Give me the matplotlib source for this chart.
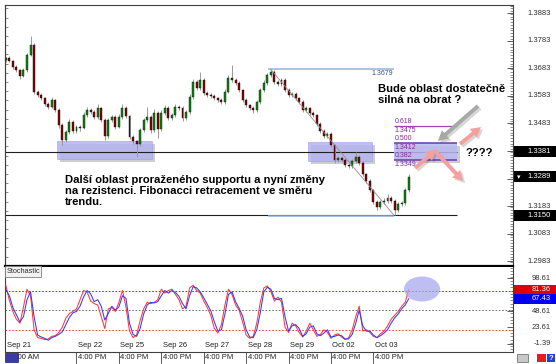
import matplotlib
matplotlib.use("Agg")
import matplotlib.pyplot as plt
import numpy as np
from matplotlib.patches import Rectangle, Ellipse, FancyArrowPatch
from matplotlib.transforms import Affine2D
import matplotlib.patheffects as pe
from matplotlib.ticker import FixedLocator, MultipleLocator, NullFormatter

plt.rcParams['font.family'] = ['Liberation Sans', 'DejaVu Sans']

# ---------------- data ----------------
trading_days = ["Sep 21", "Sep 22", "Sep 25", "Sep 26", "Sep 27",
                "Sep 28", "Sep 29", "Oct 02", "Oct 03"]
bar_hours = 2
first_open = 1.3712
closes = [
    1.3720, 1.3709, 1.3687, 1.3676, 1.3655, 1.3676, 1.3731, 1.3767, 1.3597, 1.3586,
    1.3575, 1.3553, 1.3542, 1.3568, 1.3532, 1.3477, 1.3423, 1.3452, 1.3488, 1.3456,
    1.3470, 1.3466, 1.3513, 1.3532, 1.3524, 1.3506, 1.3539, 1.3495, 1.3437, 1.3495,
    1.3506, 1.3470, 1.3506, 1.3539, 1.3510, 1.3434, 1.3419, 1.3408, 1.3459, 1.3495,
    1.3506, 1.3459, 1.3521, 1.3463, 1.3521, 1.3539, 1.3503, 1.3513, 1.3542, 1.3539,
    1.3503, 1.3524, 1.3579, 1.3633, 1.3611, 1.3640, 1.3593, 1.3586, 1.3582, 1.3575,
    1.3568, 1.3560, 1.3597, 1.3647, 1.3640, 1.3629, 1.3604, 1.3568, 1.3550, 1.3539,
    1.3532, 1.3560, 1.3604, 1.3629, 1.3658, 1.3669, 1.3633, 1.3626, 1.3640, 1.3604,
    1.3586, 1.3590, 1.3575, 1.3560, 1.3532, 1.3539, 1.3521, 1.3513, 1.3481, 1.3456,
    1.3437, 1.3445, 1.3405, 1.3350, 1.3358, 1.3350, 1.3332, 1.3329, 1.3347, 1.3361,
    1.3340, 1.3300, 1.3274, 1.3242, 1.3198, 1.3180, 1.3198, 1.3202, 1.3213, 1.3202,
    1.3169, 1.3191, 1.3195, 1.3242, 1.3289]
wick_up_pips = [
    5, 6, 4, 6, 5, 8, 6, 33, 8, 6,
    7, 5, 6, 9, 5, 6, 7, 6, 12, 8,
    7, 6, 10, 12, 8, 6, 14, 5, 6, 9,
    7, 6, 12, 14, 6, 5, 7, 5, 6, 9,
    36, 6, 14, 6, 10, 12, 6, 8, 12, 7,
    6, 8, 9, 12, 7, 29, 8, 6, 7, 6,
    5, 6, 10, 12, 48, 8, 6, 5, 6, 5,
    6, 7, 8, 10, 7, 10, 8, 9, 7, 6,
    8, 7, 6, 5, 6, 8, 5, 6, 5, 6,
    7, 8, 6, 5, 8, 7, 6, 7, 8, 18,
    9, 6, 5, 6, 5, 8, 9, 10, 14, 6,
    7, 9, 6, 8, 10]
wick_dn_pips = [
    6, 5, 7, 6, 12, 5, 6, 5, 6, 7,
    8, 6, 7, 5, 8, 9, 18, 8, 6, 9,
    7, 10, 5, 6, 8, 7, 6, 8, 14, 7,
    6, 8, 5, 6, 9, 8, 10, 47, 6, 8,
    6, 12, 7, 33, 8, 6, 9, 7, 6, 7,
    10, 6, 7, 6, 8, 6, 7, 6, 8, 7,
    6, 8, 6, 5, 6, 7, 6, 8, 7, 9,
    10, 6, 5, 6, 7, 6, 8, 7, 6, 7,
    8, 6, 7, 8, 7, 6, 7, 8, 9, 7,
    6, 8, 9, 10, 8, 7, 6, 8, 7, 6,
    9, 8, 7, 6, 8, 9, 7, 6, 8, 7,
    19, 6, 8, 7, 6]
stoch_k = [
    88, 65, 48, 36, 30, 55, 82, 72, 20, 8,
    7, 5, 6, 10, 11, 16, 24, 38, 45, 48,
    52, 66, 80, 78, 64, 60, 58, 40, 22, 52,
    54, 48, 62, 80, 55, 18, 8, 12, 34, 52,
    62, 60, 62, 66, 82, 76, 80, 82, 74, 66,
    52, 56, 84, 88, 80, 76, 64, 54, 42, 22,
    15, 28, 58, 82, 74, 58, 50, 32, 12, 7,
    10, 30, 62, 84, 87, 78, 64, 70, 62, 24,
    16, 30, 26, 16, 9, 18, 30, 20, 10, 13,
    20, 16, 7, 12, 14, 9, 5, 8, 20, 40,
    56, 18, 20, 16, 10, 8, 14, 18, 26, 36,
    42, 48, 56, 62, 81.36]
stoch_d = [
    82, 72, 54, 43, 32, 40, 66, 78, 40, 12,
    9, 7, 4, 8, 10, 13, 17, 28, 39, 46,
    48, 56, 70, 80, 75, 63, 66, 56, 35, 45,
    56, 50, 55, 72, 68, 30, 13, 10, 22, 44,
    58, 62, 61, 63, 72, 80, 76, 80, 77, 71,
    60, 52, 72, 86, 84, 78, 69, 59, 49, 32,
    18, 20, 44, 74, 78, 63, 53, 41, 20, 9,
    8, 20, 46, 78, 85, 82, 68, 66, 68, 40,
    18, 26, 28, 22, 10, 14, 24, 26, 14, 11,
    15, 20, 9, 10, 12, 11, 6, 6, 13, 30,
    50, 26, 18, 18, 12, 8, 11, 15, 20, 30,
    38, 44, 52, 58, 67.43]
support_level = 1.3381
swing_high = 1.3679
swing_low = 1.3150
fib_ratios = ["0.618", "0.500", "0.382"]
fib_prices = [1.3475, 1.3412, 1.3349]
price_tick_values = [1.3883, 1.3783, 1.3683, 1.3583, 1.3483, 1.3381,
                     1.3289, 1.3183, 1.3150, 1.3083, 1.2983]
price_boxed = [1.3381, 1.3289, 1.3150]
stoch_tick_values = [98.61, 48.61, 23.61, -1.39]
stoch_levels = [80, 50, 20]
stoch_last = [81.36, 67.43]

# zone extents (hours on the bar axis / prices)
zone1 = (29.0, 82.7, 1.3354, 1.3419)
zone2 = (171.0, 207.2, 1.3347, 1.3416)
fib_from_hour, fib_to_hour, fib_ext_hour = 148.4, 219.7, 255.3

# ---------------- figure ----------------
W, H = 556, 364
fig = plt.figure(figsize=(W / 100, H / 100), dpi=100)
pix = Affine2D().scale(1 / 100, -1 / 100).translate(0, H / 100) + fig.dpi_scale_trans


def fr(x0, y0, x1, y1):
    return [x0 / W, 1 - y1 / H, (x1 - x0) / W, (y1 - y0) / H]


ax = fig.add_axes(fr(5, 5, 513, 266))
ax2 = fig.add_axes(fr(5, 267, 513, 352))

xlim = (-0.45, 287.0)
for a in (ax, ax2):
    a.set_xlim(*xlim)
    a.set_xticks([])
    for s in a.spines.values():
        s.set_color('#404040')
        s.set_linewidth(0.8)
ax.spines['bottom'].set_linewidth(1.6)
ax.spines['bottom'].set_color('black')
ax2.spines['top'].set_visible(False)

ax.set_ylim(1.29663, 1.39120)
ax2.set_ylim(-13.9, 115.9)

# ---- candles ----
n = len(closes)
t = np.arange(n) * bar_hours
c = np.array(closes)
o = np.array([first_open] + closes[:-1])
hi = np.maximum(o, c) + np.array(wick_up_pips) / 10000
lo = np.minimum(o, c) - np.array(wick_dn_pips) / 10000
up = c >= o
ax.vlines(t, lo, hi, color='#999999', lw=0.7, zorder=3)
body_h = np.maximum(np.abs(c - o), 0.00012)
ax.bar(t, body_h, bottom=np.minimum(o, c), width=1.1,
       color=np.where(up, '#0a8a0a', '#8b0000'), edgecolor='#101010',
       linewidth=0.3, zorder=4)

# ---- zones / levels ----
shadow = [pe.SimplePatchShadow(offset=(2, -2), alpha=0.25), pe.Normal()]
for (x0, x1, y0, y1) in (zone1, zone2):
    r = Rectangle((x0, y0), x1 - x0, y1 - y0, facecolor='#b4b4f0',
                  edgecolor='#a0a0e8', lw=0.5, alpha=0.85, zorder=2)
    r.set_path_effects(shadow)
    ax.add_patch(r)

ax.hlines([support_level, swing_low], xlim[0], fib_ext_hour,
          color='#202020', lw=0.8, zorder=2)

# fibonacci tool
ax.hlines([swing_high, swing_low - 0.0003], fib_from_hour, fib_to_hour,
          color='#8fb3dc', lw=1.1, zorder=3)
ax.plot([fib_from_hour + 1.5, fib_to_hour], [swing_high, swing_low],
        color='#909090', lw=0.6, zorder=5)
fr_rect = Rectangle((fib_to_hour, fib_prices[2]), fib_ext_hour - fib_to_hour,
                    fib_prices[1] - fib_prices[2], facecolor='#b8b8f2',
                    edgecolor='none', alpha=0.85, zorder=2)
fr_rect.set_path_effects(shadow)
ax.add_patch(fr_rect)
ax.hlines(fib_prices[0], fib_to_hour, fib_ext_hour, color='#a040b0', lw=0.9, zorder=3)
ax.hlines(fib_prices[1:], fib_to_hour, fib_ext_hour, color='#6a3aa8', lw=1.1, zorder=3)
for ratio, price in zip(fib_ratios, fib_prices):
    ax.text(fib_to_hour + 0.3, price + 0.0004, ratio, fontsize=5,
            color='#8a2a9a', va='bottom', ha='left', zorder=6)
    ax.text(fib_to_hour + 0.3, price - 0.0004, f"{price:.4f}", fontsize=5,
            color='#8a2a9a', va='top', ha='left', zorder=6)
ax.text(fib_to_hour - 0.8, swing_high - 0.0004, f"{swing_high:.4f}", fontsize=5,
        color='#405080', va='top', ha='right', zorder=6)

# ---- price axis ticks / labels ----
ax.yaxis.tick_right()
ax.yaxis.set_major_locator(FixedLocator(np.arange(1.2983, 1.39, 0.01)))
ax.yaxis.set_minor_locator(MultipleLocator(0.001))
ax.yaxis.set_major_formatter(NullFormatter())
ax.tick_params(axis='y', which='major', direction='in', length=4, width=0.6,
               color='#404040', right=True, left=False)
ax.tick_params(axis='y', which='minor', direction='in', length=2, width=0.5,
               color='#606060', right=True, left=False)
sec = ax.secondary_yaxis('left')
sec.yaxis.set_major_locator(MultipleLocator(0.01 / 3))
sec.yaxis.set_major_formatter(NullFormatter())
sec.tick_params(direction='in', length=2, width=0.5, color='#606060')
sec.spines['left'].set_color('#404040')

ytr = ax.get_yaxis_transform()
lab_x = (551 - 5) / 508
box_h = 0.0040
for v in price_tick_values:
    if v in price_boxed:
        ax.add_patch(Rectangle((1.001, v - box_h / 2), 0.085, box_h, transform=ytr,
                               facecolor='black', edgecolor='none', clip_on=False))
        ax.text(lab_x, v, f"{v:.4f}", transform=ytr, fontsize=5.5, color='white',
                ha='right', va='center', clip_on=False)
    else:
        ax.text(lab_x, v, f"{v:.4f}", transform=ytr, fontsize=5.5, color='#303030',
                ha='right', va='center', clip_on=False)
ax.text(1.008, price_boxed[1], "\u25BE", transform=ytr, fontsize=5, color='white',
        ha='left', va='center', family='DejaVu Sans', clip_on=False)

# ---- stochastic ----
ax2.plot(t, stoch_k, color='#ff3838', lw=0.75, zorder=3)
ax2.plot(t, stoch_d, color='#3838ff', lw=0.75, zorder=4)
for lv, col in zip(stoch_levels, ['#2020ff', '#606060', '#ff2020']):
    ax2.axhline(lv, color=col, lw=0.6, ls=(0, (2, 2)), zorder=2)
ax2.yaxis.tick_right()
ax2.yaxis.set_major_locator(FixedLocator(stoch_tick_values))
ax2.yaxis.set_minor_locator(MultipleLocator(5))
ax2.yaxis.set_major_formatter(NullFormatter())
ax2.tick_params(axis='y', which='major', direction='in', length=4, width=0.6,
                color='#404040')
ax2.tick_params(axis='y', which='minor', direction='in', length=2, width=0.5,
                color='#606060')
ytr2 = ax2.get_yaxis_transform()
for v in stoch_tick_values:
    ax2.text(lab_x, v, f"{v:.2f}", transform=ytr2, fontsize=5.5, color='#303030',
             ha='right', va='center', clip_on=False)
sbox = 15.5
for v, col in zip(stoch_last, ['#e00000', '#0000f0']):
    ax2.add_patch(Rectangle((1.001, v - sbox / 2), 0.085, sbox, transform=ytr2,
                            facecolor=col, edgecolor='none', clip_on=False))
    ax2.text(lab_x, v, f"{v:.2f}", transform=ytr2, fontsize=5.5, color='white',
             ha='right', va='center', clip_on=False)

# time axis labels
xtr = ax2.get_xaxis_transform()
day_hours = [0] + [24 * i + 16 for i in range(1, len(trading_days))]
for i, (h, d) in enumerate(zip(day_hours, trading_days)):
    ax2.text(h + 0.8, 0.035, d, transform=xtr, fontsize=5.5, color='#202020',
             ha='left', va='bottom')
    tl = "12:00 AM" if i == 0 else "4:00 PM"
    ax2.text(h + 0.8, -0.065, tl, transform=xtr, fontsize=5.5, color='#202020',
             ha='left', va='center', clip_on=False)
    if i > 0:
        ax2.plot([h, h], [0, -0.13], transform=xtr, color='#404040', lw=0.6,
                 clip_on=False)

# ---- annotations (pixel positions) ----
ell = Ellipse((422, 289), 36, 25, transform=pix, facecolor='#a8a8f0',
              edgecolor='none', alpha=0.75, zorder=5)
fig.add_artist(ell)

fig.text(65, 175, "Další oblast proraženého supportu a nyní změny\n"
         "na rezistenci. Fibonacci retracement ve směru\ntrendu.",
         transform=pix, fontsize=8.15, fontweight='bold', ha='left', va='top',
         linespacing=1.1)
fig.text(378, 84, "Bude oblast dostatečně\nsilná na obrat ?", transform=pix,
         fontsize=8.15, fontweight='bold', ha='left', va='top', linespacing=1.15)
fig.text(466, 153, "????", transform=pix, fontsize=8.15, fontweight='bold',
         ha='left', va='center')

arrow_shadow = [pe.SimplePatchShadow(offset=(1.5, -1.5), alpha=0.2), pe.Normal()]
for (p0, p1, col) in [((478, 106), (438, 141), '#a8a8a8'),
                      ((415, 168), (436, 150), '#f4a0a0'),
                      ((434, 150), (463, 181), '#f4a0a0'),
                      ((460, 144), (481, 127), '#f4a0a0')]:
    ar = FancyArrowPatch(p0, p1, transform=pix, shrinkA=0, shrinkB=0,
                         arrowstyle='simple,head_length=0.9,head_width=1.0,tail_width=0.35',
                         mutation_scale=8, color=col, lw=0, zorder=6)
    ar.set_path_effects(arrow_shadow)
    fig.add_artist(ar)

# stochastic caption box
fig.add_artist(Rectangle((5, 266), 36, 11, transform=pix, facecolor='#f2f2f2',
                         edgecolor='#808080', lw=0.6))
fig.text(7, 271.5, "Stochastic", transform=pix, fontsize=5.3, color='#303030',
         ha='left', va='center')

# small icons
fig.add_artist(Rectangle((5, 353), 13, 9, transform=pix, facecolor='#3a3aa8',
                         edgecolor='#202060', lw=0.5))
fig.add_artist(Rectangle((517, 354), 11, 8, transform=pix, facecolor='#c8c8c8',
                         edgecolor='#606060', lw=0.5))
fig.add_artist(Rectangle((537, 354), 9, 8, transform=pix, facecolor='#e02020',
                         edgecolor='none'))
fig.add_artist(Rectangle((547, 354), 8, 8, transform=pix, facecolor='#2040e0',
                         edgecolor='none'))
fig.text(551, 358, "?", transform=pix, fontsize=5.5, color='white',
         ha='center', va='center', fontweight='bold')

fig.savefig("out.png", dpi=100)
